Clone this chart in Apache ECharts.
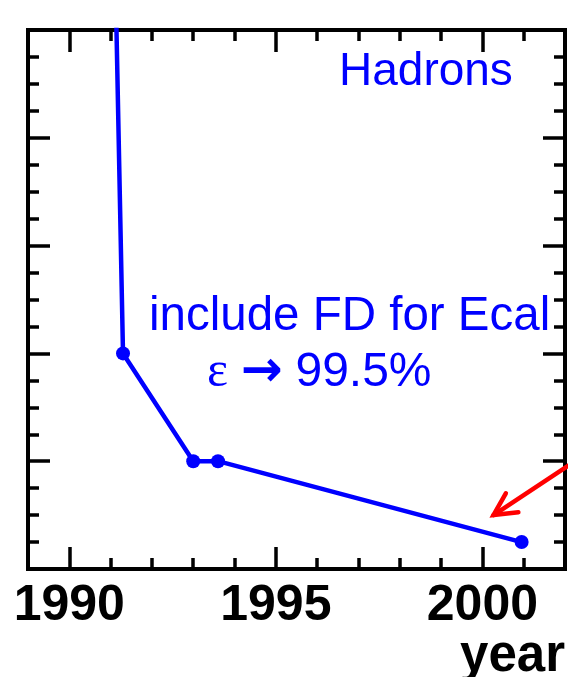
<!DOCTYPE html>
<html>
<head>
<meta charset="utf-8">
<script src="https://cdn.jsdelivr.net/npm/echarts@6/dist/echarts.min.js"></script>
<style>
  html, body { margin: 0; padding: 0; background: #fff; }
  #chart { width: 568px; height: 677px; }
</style>
</head>
<body>
<div id="chart"></div>
<script>
// Hadron rate history: year of each change and the resulting level
const years = [1991.0, 1991.3, 1993.0, 1993.6, 2000.95];
const rates = [7.7, 2.0, 1.0, 1.0, 0.25];

// Axis ticks
const yearLabels = [1990, 1995, 2000];
const yearTicks = [1989, 1990, 1991, 1992, 1993, 1994, 1995, 1996, 1997, 1998, 1999, 2000, 2001, 2002];

// Red annotation arrow (data coordinates: tail, head)
const arrowTail = [2002.08, 0.96];
const arrowHead = [2000.27, 0.5];

const FONT = "'Liberation Sans', Arial, Helvetica, sans-serif";
const BLUE = '#0000ff';

const gridRect = { left: 28, right: 3, top: 30, bottom: 108, containLabel: false, outerBoundsMode: 'none' };

function xAxisFor(grid, position, major) {
  return {
    type: 'value', gridIndex: grid, position: position,
    min: 1989, max: 2002,
    axisLine: { show: major, onZero: false, lineStyle: { color: '#000', width: 4, cap: 'square' } },
    axisTick: {
      show: true, inside: true, customValues: major ? yearLabels : yearTicks,
      length: major ? 22 : 11, lineStyle: { color: '#000', width: 3.5 }
    },
    axisLabel: position === 'bottom' && major ? {
      show: true, customValues: yearLabels, margin: 12,
      formatter: v => String(v),
      fontFamily: FONT, fontWeight: 'bold', fontSize: 50, color: '#000'
    } : { show: false },
    splitLine: { show: false },
    name: position === 'bottom' && major ? 'year' : '',
    nameLocation: 'end', nameGap: 0,
    nameTextStyle: {
      fontFamily: FONT, fontWeight: 'bold', fontSize: 51, color: '#000',
      align: 'right', verticalAlign: 'top', padding: [62, 0, 0, 0]
    }
  };
}

function yAxisFor(position) {
  return {
    type: 'value', gridIndex: 0, position: position,
    min: 0, max: 5, interval: 1,
    axisLine: { show: true, onZero: false, lineStyle: { color: '#000', width: 4, cap: 'square' } },
    axisTick: { show: true, inside: true, length: 22, lineStyle: { color: '#000', width: 3.5 } },
    minorTick: { show: true, splitNumber: 4, length: 11, lineStyle: { color: '#000', width: 3.5 } },
    axisLabel: { show: false },
    splitLine: { show: false },
    minorSplitLine: { show: false }
  };
}

const chart = echarts.init(document.getElementById('chart'), null, { renderer: 'canvas' });

chart.setOption({
  animation: false,
  backgroundColor: '#fff',
  grid: [Object.assign({}, gridRect), Object.assign({}, gridRect)],
  xAxis: [
    xAxisFor(0, 'bottom', true),
    xAxisFor(0, 'top', true),
    xAxisFor(1, 'bottom', false),
    xAxisFor(1, 'top', false)
  ],
  yAxis: [
    yAxisFor('left'),
    yAxisFor('right'),
    Object.assign(yAxisFor('left'), { gridIndex: 1, axisLine: { show: false }, axisTick: { show: false }, minorTick: { show: false } })
  ],
  series: [{
    type: 'line',
    xAxisIndex: 0, yAxisIndex: 0,
    data: years.map((y, i) => [y, rates[i]]),
    clip: true,
    symbol: 'circle', symbolSize: 14,
    lineStyle: { color: BLUE, width: 4.5 },
    itemStyle: { color: BLUE }
  }]
});

// Annotations
const tail = chart.convertToPixel({ xAxisIndex: 0, yAxisIndex: 0 }, arrowTail);
const head = chart.convertToPixel({ xAxisIndex: 0, yAxisIndex: 0 }, arrowHead);
const ang = Math.atan2(tail[1] - head[1], tail[0] - head[0]);
const armLen = 25, armAng = 27 * Math.PI / 180;
const arm = s => [head[0] + armLen * Math.cos(ang + s * armAng), head[1] + armLen * Math.sin(ang + s * armAng)];
const redStroke = { stroke: '#ff0000', lineWidth: 4.5, lineCap: 'round', lineJoin: 'miter' };

const textStyle = { fontFamily: FONT, fontSize: 46, fill: BLUE, textVerticalAlign: 'middle' };

chart.setOption({
  graphic: [
    { type: 'line', shape: { x1: tail[0], y1: tail[1], x2: head[0], y2: head[1] }, style: redStroke, z: 10 },
    { type: 'polyline', shape: { points: [arm(1), head, arm(-1)] }, style: Object.assign({ fill: null }, redStroke), z: 10 },
    { type: 'text', x: 339, y: 72, style: Object.assign({ text: 'Hadrons' }, textStyle), z: 10 },
    { type: 'text', x: 149, y: 317, style: Object.assign({ text: 'include FD for Ecal' }, textStyle, { fontSize: 47.5 }), z: 10 },
    {
      type: 'text', x: 207, y: 373, z: 10,
      style: Object.assign({}, textStyle, {
        text: '{e|ε} {a|→} {n|99.5%}',
        rich: {
          e: { fontFamily: "'Liberation Serif', 'Times New Roman', serif", fontSize: 50, fill: BLUE },
          a: { fontFamily: "'DejaVu Sans', sans-serif", fontWeight: 'bold', fontSize: 50, fill: BLUE },
          n: { fontFamily: FONT, fontSize: 48, fill: BLUE }
        }
      })
    }
  ]
});
</script>
</body>
</html>
